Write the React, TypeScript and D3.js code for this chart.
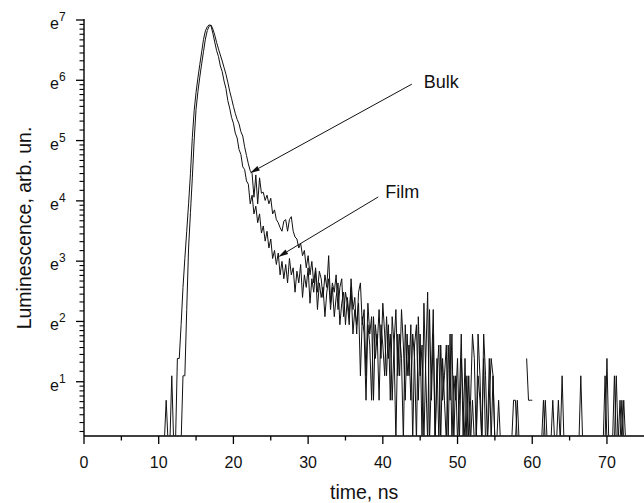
import React from "react";
import * as d3 from "d3";

// Time channels: START_NS + i * STEP_NS (ns)
const START_NS = 10.5;
const STEP_NS = 0.25;

// Photon counts per channel
const filmCounts = [
  0, 1, 2, 1, 1, 3, 1, 1,
  4, 4, 7, 13, 21, 33, 52, 86,
  156, 245, 330, 420, 523, 645, 796, 916,
  982, 1012, 995, 880, 760, 660, 598, 512,
  466, 398, 352, 288, 254, 218, 198, 168,
  155, 128, 118, 96, 92, 76, 72, 52,
  60, 44, 50, 38, 44, 32, 36, 28,
  33, 25, 29, 21, 24, 19, 23, 16,
  20, 15, 19, 14, 21, 16, 18, 12,
  17, 14, 19, 11, 16, 13, 18, 10,
  15, 12, 17, 9, 14, 11, 13, 8,
  12, 15, 9, 13, 8, 11, 14, 7,
  10, 12, 7, 11, 8, 13, 6, 9,
  7, 10, 3, 8, 6, 2, 7, 5,
  2, 8, 4, 6, 2, 7, 5, 3,
  8, 4, 6, 2, 5, 9, 3, 6,
  4, 1, 7, 3, 5, 2, 6, 4,
  1, 8, 3, 5, 1, 4, 12, 1,
  3, 9, 1, 4, 1, 5, 2, 3,
  5, 1, 6, 1, 3, 2, 4, 1,
  4, 2, 1, 3, 1, 2, 6, 4,
  1, 3, 2, 1, 6, 3, 1, 2,
  4, 3, 1, 1, 0, 2, 0, 1,
  1, 0, 1, 1, 2, 2, 1, 0,
  1, 1, 0, 4, 2, 2, 2, 0,
  1, 1, 0, 1, 1, 2, 1, 1,
  0, 1, 1, 1, 2, 1, 3, 1,
  1, 0, 1, 1, 0, 1, 1, 1,
  3, 1, 0, 1, 1, 0, 1, 1,
  1, 0, 1, 1, 1, 1, 4, 1,
  0, 1, 1, 3, 1, 2, 1, 2,
  1,
];

const bulkCounts = [
  0, 0, 0, 1, 0, 0, 1, 1,
  0, 1, 1, 3, 3, 9, 25, 45,
  80, 150, 250, 335, 425, 530, 650, 800,
  920, 990, 1010, 944, 854, 757, 679, 614,
  556, 498, 446, 391, 337, 299, 262, 233,
  211, 196, 172, 160, 134, 116, 101, 90,
  86, 58, 84, 52, 80, 62, 63, 55,
  60, 52, 57, 44, 47, 40, 38, 35,
  33, 39, 40, 33, 40, 42, 33, 30,
  29, 25, 27, 22, 24, 18, 22, 16,
  20, 14, 18, 12, 17, 15, 11, 16,
  13, 22, 10, 14, 12, 16, 9, 13,
  15, 8, 12, 10, 7, 15, 9, 11,
  6, 12, 14, 7, 9, 3, 10, 6,
  8, 2, 7, 5, 9, 4, 10, 6,
  3, 7, 2, 8, 5, 1, 6, 3,
  9, 5, 2, 6, 3, 7, 1, 5,
  7, 2, 6, 1, 10, 3, 1, 9,
  2, 6, 1, 3, 5, 1, 4, 2,
  1, 5, 2, 6, 1, 3, 1, 2,
  6, 1, 4, 1, 3, 1, 2, 1,
  1, 6, 3, 1, 4, 1, 1, 4,
  1, 3, 1, 1, 2, 1, 0, 2,
  0, 1, 1, 0, 1, 1, 2, 1,
  1, 1, 1, 1, 1, 1, 0, 1,
  1, 1, 1, 1, 2, 1, 1, 0,
  1, 2, 1, 0, 1, 1, 1, 1,
  0, 1, 1, 1, 1, 0, 1, 1,
  1, 1, 1, 0, 1, 1, 1, 0,
  1, 1, 1, 0, 1, 3, 1, 1,
  1, 1, 3, 1, 1, 1, 2, 1,
  0,
];

const xMajorTicks = [0, 10, 20, 30, 40, 50, 60, 70];
const xMinorTicks = [5, 15, 25, 35, 45, 55, 65];
const yExponents = [1, 2, 3, 4, 5, 6, 7];

// annotations: label, target (time ns, ln of counts)
const annotations = [
  { label: "Bulk", t: 22.2, lnC: 4.46 },
  { label: "Film", t: 26.0, lnC: 3.07 },
];

const FONT = "'Liberation Sans', Arial, Helvetica, sans-serif";

export default function App() {
  const W = 644;
  const H = 503;
  const left = 84;
  const bottom = 436;
  const top = 20;

  const x = d3.scaleLinear().domain([0, 75]).range([left, 644.3]);
  const y = d3
    .scaleLog()
    .base(Math.E)
    .domain([Math.exp(0.1), Math.exp(7)])
    .range([bottom, top]);

  const line = d3
    .line<number>()
    .defined((c) => c > 0)
    .x((_, i) => x(START_NS + i * STEP_NS))
    .y((c) => y(c));

  // minor y ticks: linear subdivisions (9 parts) between e^n and e^(n+1)
  const yMinor: number[] = [];
  for (let n = 0; n < 7; n++) {
    const a = Math.exp(n);
    const b = Math.exp(n + 1);
    for (let j = 1; j <= 8; j++) {
      const v = a + (j * (b - a)) / 9;
      if (Math.log(v) >= 0.1) yMinor.push(v);
    }
  }

  const arrowStarts = [
    { dx: 162, dy: -89 },
    { dx: 100, dy: -60 },
  ];
  const textOffsets = [
    { dx: 12, dy: 4 },
    { dx: 7, dy: 1 },
  ];

  return (
    <svg
      width={W}
      height={H}
      viewBox={`0 0 ${W} ${H}`}
      style={{ position: "absolute", left: 0, top: 0, background: "#fff" }}
      fontFamily={FONT}
    >
      <defs>
        <clipPath id="plotClip">
          <rect x={left} y={0} width={W - left} height={bottom - 0.5} />
        </clipPath>
      </defs>

      <g clipPath="url(#plotClip)" fill="none" stroke="#111" strokeWidth={1} strokeLinejoin="round">
        <path d={line(bulkCounts) || ""} />
        <path d={line(filmCounts) || ""} />
      </g>

      {/* annotations */}
      {annotations.map((a, k) => {
        const tx = x(a.t);
        const ty = y(Math.exp(a.lnC));
        const sx = tx + arrowStarts[k].dx;
        const sy = ty + arrowStarts[k].dy;
        const ang = Math.atan2(ty - sy, tx - sx);
        const L = 10;
        const hw = 2.6;
        const bx = tx - L * Math.cos(ang);
        const by = ty - L * Math.sin(ang);
        const px = -Math.sin(ang) * hw;
        const py = Math.cos(ang) * hw;
        return (
          <g key={a.label}>
            <line x1={sx} y1={sy} x2={bx} y2={by} stroke="#111" strokeWidth={1} />
            <polygon
              points={`${tx},${ty} ${bx + px},${by + py} ${bx - px},${by - py}`}
              fill="#111"
            />
            <text
              x={sx + textOffsets[k].dx}
              y={sy + textOffsets[k].dy}
              fontSize={18}
              fill="#111"
            >
              {a.label}
            </text>
          </g>
        );
      })}

      {/* x axis */}
      <line x1={left} y1={bottom} x2={W} y2={bottom} stroke="#000" strokeWidth={1.4} />
      {xMajorTicks.map((t) => (
        <g key={"xm" + t}>
          <line x1={x(t)} y1={bottom} x2={x(t)} y2={bottom + 8} stroke="#000" strokeWidth={1.3} />
          <text x={x(t)} y={468} textAnchor="middle" fontSize={16} fill="#111">
            {t}
          </text>
        </g>
      ))}
      {xMinorTicks.map((t) => (
        <line key={"xn" + t} x1={x(t)} y1={bottom} x2={x(t)} y2={bottom + 4.5} stroke="#000" strokeWidth={1.3} />
      ))}
      <text x={x(37.5)} y={499} textAnchor="middle" fontSize={19.5} fill="#111">
        time, ns
      </text>

      {/* y axis */}
      <line x1={left} y1={top - 1} x2={left} y2={bottom} stroke="#000" strokeWidth={1.4} />
      {yExponents.map((n) => {
        const yy = y(Math.exp(n));
        return (
          <g key={"ym" + n}>
            <line x1={left - 8} y1={yy} x2={left} y2={yy} stroke="#000" strokeWidth={1.3} />
            <text x={50} y={yy + 9} fontSize={16} fill="#111">
              e
              <tspan dy={-8} fontSize={12}>
                {n}
              </tspan>
            </text>
          </g>
        );
      })}
      {yMinor.map((v, i) => (
        <line key={"yn" + i} x1={left - 4.5} y1={y(v)} x2={left} y2={y(v)} stroke="#000" strokeWidth={1.1} />
      ))}
      <text
        transform={`translate(31, ${(top + bottom) / 2}) rotate(-90)`}
        textAnchor="middle"
        fontSize={19.5}
        fill="#111"
      >
        Luminescence, arb. un.
      </text>
    </svg>
  );
}
